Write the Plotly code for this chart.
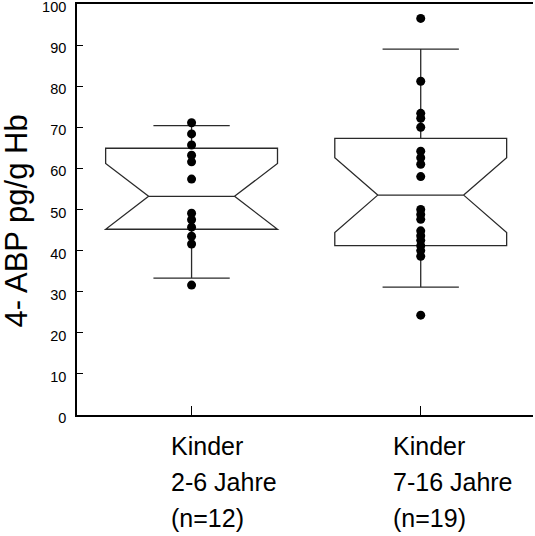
import plotly.graph_objects as go

# Groups (x positions 0 and 1) and their label lines
groups = [0, 1]
group_labels = [
    ["Kinder", "2-6 Jahre", "(n=12)"],
    ["Kinder", "7-16 Jahre", "(n=19)"],
]

# Box statistics per group
q1 = [45.2, 41.2]
median = [53.2, 53.5]
q3 = [64.9, 67.3]
lower_whisker = [33.3, 31.1]
upper_whisker = [70.4, 89.0]
notch_span = [8.0, 9.1]

# Individual measurements
values_2_6 = [71.1, 68.4, 65.7, 63.2, 61.6, 57.4, 49.1, 47.5, 45.7, 43.5, 41.6, 31.6]
values_7_16 = [96.5, 81.2, 73.4, 72.2, 70.0, 64.2, 62.6, 61.0, 58.0, 50.0, 48.8,
               47.6, 44.8, 43.6, 42.5, 41.2, 40.0, 38.6, 24.3]

y_ticks = list(range(0, 101, 10))
y_title = "4- ABP pg/g Hb"

FONT = "Liberation Sans, Arial, sans-serif"

fig = go.Figure()

fig.add_trace(go.Box(
    x=groups,
    q1=q1,
    median=median,
    q3=q3,
    lowerfence=lower_whisker,
    upperfence=upper_whisker,
    notchspan=notch_span,
    notched=True,
    notchwidth=0.25,
    whiskerwidth=0.444,
    width=0.75,
    boxpoints=False,
    fillcolor="rgba(0,0,0,0)",
    line=dict(color="#2a2a2a", width=1.3),
    hoverinfo="skip",
))

for gx, vals in zip(groups, [values_2_6, values_7_16]):
    fig.add_trace(go.Scatter(
        x=[gx] * len(vals),
        y=vals,
        mode="markers",
        marker=dict(color="black", size=9, symbol="circle"),
        hoverinfo="skip",
        cliponaxis=False,
    ))

# Category labels under the axis: block centred, lines left-aligned
for gx, lines in zip(groups, group_labels):
    text = "<br>".join(f"<span style='font-size:25px'>{ln}</span>" for ln in lines)
    fig.add_annotation(
        x=gx, y=0, xref="x", yref="paper",
        text=text, showarrow=False,
        xanchor="center", yanchor="top", align="left",
        xshift=32, yshift=-15,
        font=dict(family=FONT, size=27.7, color="black"),
    )

# Y axis title
fig.add_annotation(
    x=0, y=0.5, xref="paper", yref="paper",
    text=y_title, showarrow=False, textangle=-90,
    xanchor="center", yanchor="middle",
    xshift=-61, yshift=-12,
    font=dict(family=FONT, size=31, color="black"),
)

fig.update_layout(
    width=535, height=536,
    margin=dict(l=77, r=2, t=4, b=121),
    paper_bgcolor="white", plot_bgcolor="white",
    showlegend=False,
    font=dict(family=FONT, color="black"),
    xaxis=dict(
        range=[-0.5, 1.49],
        tickvals=groups,
        showticklabels=False,
        automargin=False,
        ticks="inside", ticklen=9, tickwidth=1.3, tickcolor="black",
        showline=True, mirror=True, linecolor="black", linewidth=1.6,
        showgrid=False, zeroline=False,
    ),
    yaxis=dict(
        range=[0, 100],
        tickvals=y_ticks,
        automargin=False,
        ticks="inside", ticklen=6, tickwidth=1.3, tickcolor="black",
        ticklabelstandoff=6,
        ticklabelshift=3,
        ticklabeloverflow="allow",
        tickfont=dict(family=FONT, size=14.5, color="black"),
        showline=True, linecolor="black", linewidth=1.6,
        showgrid=False, zeroline=False,
    ),
)

fig.write_html("out.html")
